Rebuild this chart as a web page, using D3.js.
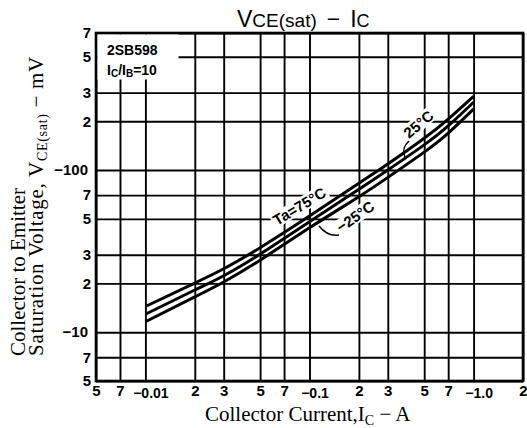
<!DOCTYPE html>
<html>
<head>
<meta charset="utf-8">
<script src="https://cdn.jsdelivr.net/npm/d3@7"></script>
<style>
  body { margin: 0; background: #fff; }
  .sans { font-family: "Liberation Sans", Arial, sans-serif; }
  .serif { font-family: "Liberation Serif", "Times New Roman", serif; }
</style>
</head>
<body>
<svg id="chart" width="527" height="428"></svg>
<script>
// collector current (A) and VCE(sat) (mV)
var current = [0.01, 0.02, 0.03, 0.05, 0.1, 0.2, 0.3, 0.5, 0.7, 1.0];
var vce75  = [14.4, 20.1, 24.6, 33.2, 52, 83, 109, 157, 206, 285];
var vce25  = [12.9, 18.2, 22.3, 30.3, 48, 76, 100, 143, 187, 262];
var vceM25 = [11.6, 16.5, 20.4, 27.8, 44, 68.5, 90, 129, 169, 238];

var xTicks = [0.005, 0.007, 0.01, 0.02, 0.03, 0.05, 0.07, 0.1, 0.2, 0.3, 0.5, 0.7, 1.0, 2.0];
var xTickLabels = ["5", "7", "\u22120.01", "2", "3", "5", "7", "\u22120.1", "2", "3", "5", "7", "\u22121.0", "2"];
var yTicks = [5, 7, 10, 20, 30, 50, 70, 100, 200, 300, 500, 700];
var yTickLabels = ["5", "7", "\u221210", "2", "3", "5", "7", "\u2212100", "2", "3", "5", "7"];

var pLeft = 96, pRight = 523, pTop = 33, pBottom = 381;

var x = d3.scaleLog().domain([0.005, 2]).range([pLeft, pRight]);
var y = d3.scaleLog().domain([5, 700]).range([pBottom, pTop]);

var svg = d3.select("#chart");

// grid + tick labels
var xAxis = svg.append("g")
    .attr("transform", "translate(0," + pBottom + ")")
    .call(d3.axisBottom(x)
        .tickValues(xTicks)
        .tickFormat(function(d, i) { return xTickLabels[i]; })
        .tickSize(-(pBottom - pTop))
        .tickPadding(0));
xAxis.select(".domain").remove();
xAxis.selectAll("line").attr("stroke", "#000").attr("stroke-width", 1.9);
xAxis.selectAll("text")
    .attr("class", "sans")
    .attr("fill", "#000")
    .style("font-weight", "bold")
    .style("font-size", function(d, i) { return xTickLabels[i].length > 1 ? "14px" : "15px"; })
    .attr("dy", null)
    .attr("y", function(d, i) { return xTickLabels[i].length > 1 ? 17 : 15; })
    .attr("dx", function(d, i) { return xTickLabels[i].length > 1 ? 5 : 0; });

var yAxis = svg.append("g")
    .attr("transform", "translate(" + pLeft + ",0)")
    .call(d3.axisLeft(y)
        .tickValues(yTicks)
        .tickFormat(function(d, i) { return yTickLabels[i]; })
        .tickSize(-(pRight - pLeft))
        .tickPadding(0));
yAxis.select(".domain").remove();
yAxis.selectAll("line").attr("stroke", "#000").attr("stroke-width", 1.9);
yAxis.selectAll("text")
    .attr("class", "sans")
    .attr("fill", "#000")
    .style("font-weight", "bold")
    .style("font-size", "15px")
    .attr("x", function(d, i) { return yTickLabels[i].length > 1 ? -8 : -5; });

// frame
svg.append("rect")
    .attr("x", pLeft).attr("y", pTop)
    .attr("width", pRight - pLeft).attr("height", pBottom - pTop)
    .attr("fill", "none").attr("stroke", "#000").attr("stroke-width", 2.6);

// part number box
svg.append("rect")
    .attr("x", pLeft + 1.5).attr("y", pTop + 1.5)
    .attr("width", 81).attr("height", 45)
    .attr("fill", "#fff");
svg.append("text").attr("class", "sans")
    .attr("x", 107).attr("y", 55)
    .style("font-size", "14px").style("font-weight", "bold")
    .text("2SB598");
var ratio = svg.append("text").attr("class", "sans")
    .attr("x", 107).attr("y", 75)
    .style("font-size", "14px").style("font-weight", "bold");
ratio.append("tspan").text("I");
ratio.append("tspan").attr("dy", 2).style("font-size", "10px").text("C");
ratio.append("tspan").attr("dy", -2).text("/I");
ratio.append("tspan").attr("dy", 2).style("font-size", "10px").text("B");
ratio.append("tspan").attr("dy", -2).text("=10");

// curve labels (white backing over the grid)
var labels = [
  { text: "Ta=75\u00b0C", x: 277, y: 226, angle: -31 },
  { text: "\u221225\u00b0C", x: 341, y: 233, angle: -35 },
  { text: "25\u00b0C", x: 409, y: 139, angle: -40 }
];
var labelBg = svg.append("g");

labels.forEach(function(l) {
  var g = labelBg.append("g")
      .attr("transform", "translate(" + l.x + "," + l.y + ") rotate(" + l.angle + ")");
  var t = g.append("text").attr("class", "sans")
      .style("font-size", "15px").style("font-weight", "bold")
      .text(l.text);
  var b = t.node().getBBox();
  g.insert("rect", "text")
      .attr("x", b.x - 2).attr("y", b.y + 1)
      .attr("width", b.width + 4).attr("height", b.height - 2)
      .attr("fill", "#fff");
  t.remove();
});

// curves
var line = d3.line()
    .x(function(d) { return x(d[0]); })
    .y(function(d) { return y(d[1]); })
    .curve(d3.curveNatural);

var series = [vce75, vce25, vceM25];

svg.append("g").selectAll("path")
    .data(series)
    .enter().append("path")
    .attr("d", function(s) { return line(current.map(function(c, i) { return [c, s[i]]; })); })
    .attr("fill", "none")
    .attr("stroke", "#000")
    .attr("stroke-width", 3);

labels.forEach(function(l) {
  svg.append("text").attr("class", "sans")
      .attr("transform", "translate(" + l.x + "," + l.y + ") rotate(" + l.angle + ")")
      .style("font-size", "15px").style("font-weight", "bold")
      .text(l.text);
});

// leaders
svg.append("path")
    .attr("d", "M339,235 Q328,237 319,226")
    .attr("fill", "none").attr("stroke", "#000").attr("stroke-width", 1.5);
svg.append("path")
    .attr("d", "M409,141 Q401,148 405,157")
    .attr("fill", "none").attr("stroke", "#000").attr("stroke-width", 1.5);

// title
var title = svg.append("text").attr("class", "sans")
    .attr("x", 237).attr("y", 27)
    .style("font-size", "23px");
title.append("tspan").text("V");
title.append("tspan").style("font-size", "19px").text("CE(sat)");
title.append("tspan").attr("dx", 10).text("\u2212");
title.append("tspan").attr("dx", 10).text("I");
title.append("tspan").style("font-size", "18px").text("C");

// axis titles
var yl = svg.append("g").attr("transform", "translate(25,356) rotate(-90)");
yl.append("text").attr("class", "serif")
    .style("font-size", "21px")
    .text("Collector to Emitter");
var yl2 = yl.append("text").attr("class", "serif")
    .attr("y", 18)
    .style("font-size", "21px")
    .style("letter-spacing", "0.7px");
yl2.append("tspan").text("Saturation Voltage, V");
yl2.append("tspan").attr("dy", 4).style("font-size", "14px").text("CE(sat)");
yl2.append("tspan").attr("dy", -4).text(" \u2212 mV");

var xl = svg.append("text").attr("class", "serif")
    .attr("x", 205).attr("y", 421)
    .style("font-size", "21px");
xl.append("tspan").text("Collector Current,I");
xl.append("tspan").attr("dy", 4).style("font-size", "14px").text("C");
xl.append("tspan").attr("dy", -4).text(" \u2212 A");
</script>
</body>
</html>
